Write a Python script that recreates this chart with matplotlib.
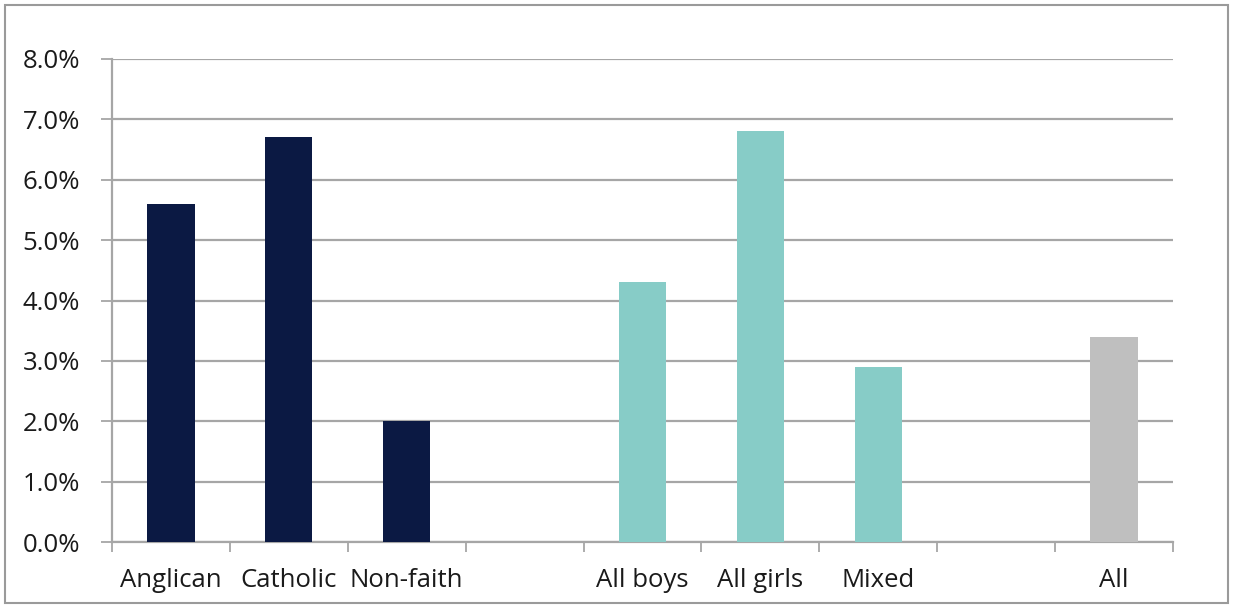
import numpy as np
import matplotlib.pyplot as plt
from matplotlib.ticker import PercentFormatter
from matplotlib.patches import Rectangle

plt.rcParams['font.family'] = ['Open Sans', 'DejaVu Sans']

# categories (blank slots separate the groups)
categories = ['Anglican', 'Catholic', 'Non-faith', '', 'All boys', 'All girls', 'Mixed', '', 'All']
values = [5.6, 6.7, 2.0, 0, 4.3, 6.8, 2.9, 0, 3.4]
groups = ['faith', 'faith', 'faith', None, 'gender', 'gender', 'gender', None, 'all']

colours = {'faith': '#0b1943', 'gender': '#87ccc7', 'all': '#bfbfbf', None: 'none'}

fig = plt.figure(figsize=(12.33, 6.06), dpi=100)
ax = fig.add_axes([112 / 1233, 64 / 606, (1173 - 112) / 1233, (542 - 59) / 606])

x = np.arange(len(categories))
bar_colours = [colours[g] for g in groups]
ax.bar(x, values, width=0.4, color=bar_colours, zorder=3)

ax.set_xlim(-0.5, len(categories) - 0.5)
ax.set_ylim(0, 8)
ax.set_yticks(np.arange(0, 9, 1))
ax.yaxis.set_major_formatter(PercentFormatter(decimals=1))
ax.yaxis.grid(True, color='#a6a6a6', linewidth=1.6, zorder=0)

# category labels centred in each slot, ticks on the slot boundaries
ax.set_xticks(x)
ax.set_xticklabels(categories)
ax.tick_params(axis='x', length=0, pad=19, labelsize=18.5, colors='#1a1a1a')
ax.set_xticks(np.arange(-0.5, len(categories), 1), minor=True)
ax.tick_params(axis='x', which='minor', length=7, width=1.3, color='#a6a6a6')
ax.tick_params(axis='y', length=8, width=1.3, color='#a6a6a6', labelsize=18.5,
               labelcolor='#1a1a1a', pad=15)

for side in ['top', 'right']:
    ax.spines[side].set_visible(False)
for side in ['left', 'bottom']:
    ax.spines[side].set_color('#a6a6a6')
    ax.spines[side].set_linewidth(1.6)

# outer chart border
fig.patches.append(Rectangle((5 / 1233, 3 / 606), 1223 / 1233, 598 / 606,
                             transform=fig.transFigure, fill=False,
                             edgecolor='#9a9a9a', linewidth=1.5))

fig.savefig('out.png', dpi=100)
